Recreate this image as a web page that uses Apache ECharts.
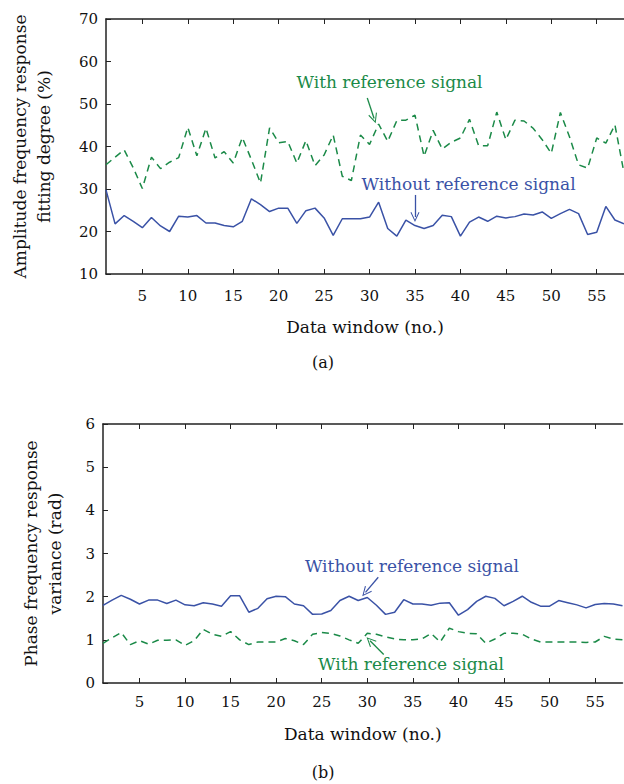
<!DOCTYPE html>
<html>
<head>
<meta charset="utf-8">
<script src="https://cdn.jsdelivr.net/npm/echarts@6/dist/echarts.min.js"></script>
<style>
  html, body { margin: 0; padding: 0; background: #fff; }
  #chart { width: 624px; height: 784px; }
</style>
</head>
<body>
<div id="chart"></div>
<script>
// data window numbers (x axis)
var windows = [1, 2, 3, 4, 5, 6, 7, 8, 9, 10, 11, 12, 13, 14, 15, 16, 17, 18, 19, 20,
    21, 22, 23, 24, 25, 26, 27, 28, 29, 30, 31, 32, 33, 34, 35, 36, 37, 38, 39, 40,
    41, 42, 43, 44, 45, 46, 47, 48, 49, 50, 51, 52, 53, 54, 55, 56, 57, 58];
var xTicks = [5, 10, 15, 20, 25, 30, 35, 40, 45, 50, 55];

// (a) amplitude fitting degree (%)
var ampWith = [35.7, 37.5, 39.2, 35.0, 30.1, 37.5, 34.8, 36.3, 37.4, 44.5,
    37.8, 44.3, 37.3, 38.8, 36.1, 42.1, 36.9, 31.4, 44.4, 40.9,
    41.2, 36.1, 41.4, 35.5, 38.0, 42.7, 33.0, 32.0, 42.7, 40.5,
    45.3, 41.2, 46.1, 46.2, 47.4, 37.7, 43.8, 39.4, 41.0, 42.0,
    46.4, 40.2, 40.2, 48.1, 41.6, 46.2, 46.0, 44.3, 41.6, 38.4,
    48.0, 42.3, 35.7, 34.9, 42.0, 40.8, 45.1, 33.8];
var ampWithout = [29.8, 21.8, 23.75, 22.4, 20.9, 23.3, 21.3, 20.0, 23.6, 23.4,
    23.75, 22.0, 22.0, 21.4, 21.1, 22.4, 27.7, 26.3, 24.7, 25.5,
    25.5, 21.9, 24.9, 25.5, 23.2, 19.1, 23.0, 23.0, 23.0, 23.4,
    26.9, 20.7, 18.9, 22.7, 21.4, 20.7, 21.4, 23.8, 23.5, 18.9,
    22.2, 23.4, 22.4, 23.6, 23.2, 23.5, 24.1, 23.9, 24.6, 23.1,
    24.2, 25.2, 24.2, 19.3, 19.8, 25.9, 22.7, 21.8];

// (b) phase variance (rad)
var phaseWith = [0.92, 1.05, 1.17, 0.89, 0.98, 0.90, 0.99, 0.99, 1.00, 0.87,
    0.98, 1.24, 1.13, 1.08, 1.19, 1.00, 0.89, 0.95, 0.95, 0.95,
    1.03, 0.98, 0.89, 1.13, 1.17, 1.15, 1.09, 1.00, 0.92, 1.15,
    1.13, 1.07, 1.02, 1.00, 1.00, 1.02, 1.15, 0.95, 1.27, 1.19,
    1.15, 1.14, 0.92, 1.02, 1.15, 1.15, 1.13, 1.02, 0.95, 0.95,
    0.95, 0.95, 0.95, 0.94, 0.95, 1.08, 1.02, 1.00];
var phaseWithout = [1.80, 1.92, 2.03, 1.94, 1.83, 1.92, 1.92, 1.84, 1.92, 1.81,
    1.79, 1.86, 1.83, 1.78, 2.02, 2.02, 1.64, 1.73, 1.95, 2.01,
    2.00, 1.83, 1.79, 1.59, 1.60, 1.68, 1.91, 2.01, 1.91, 1.98,
    1.80, 1.59, 1.64, 1.93, 1.83, 1.83, 1.80, 1.85, 1.86, 1.57,
    1.70, 1.89, 2.01, 1.96, 1.79, 1.89, 2.01, 1.87, 1.78, 1.78,
    1.91, 1.86, 1.81, 1.74, 1.82, 1.84, 1.83, 1.79];

var FONT = 'DejaVu Serif';
var BLUE = '#3a52a6';
var GREEN = '#1b8a48';
var AXIS = '#222';
// open "V" arrow head, like the hand-drawn arrows of the figure
var ARROW_HEAD = 'path://M0,10 L5,0 L10,10 L9,10.6 L5,2.4 L1,10.6 Z';

function pairs(ys) {
    return windows.map(function (x, i) { return [x, ys[i]]; });
}

function bottomX(gridIndex, labelMargin, nameGap) {
    return {
        type: 'value', gridIndex: gridIndex, min: 1, max: 58, position: 'bottom',
        name: 'Data window (no.)', nameLocation: 'middle', nameGap: nameGap,
        nameTextStyle: { fontFamily: FONT, fontSize: 17, color: '#111' },
        axisLine: { lineStyle: { color: AXIS, width: 1.5 } },
        axisTick: { inside: true, length: 5, customValues: xTicks, lineStyle: { color: AXIS } },
        axisLabel: { customValues: xTicks, margin: labelMargin, fontFamily: FONT, fontSize: 15, color: '#111' },
        splitLine: { show: false }
    };
}
function topX(gridIndex) {
    return {
        type: 'value', gridIndex: gridIndex, min: 1, max: 58, position: 'top',
        axisLine: { lineStyle: { color: AXIS, width: 1.5 } },
        axisTick: { inside: true, length: 5, customValues: xTicks, lineStyle: { color: AXIS } },
        axisLabel: { show: false },
        splitLine: { show: false }
    };
}
function leftY(gridIndex, min, max, step, name, gap) {
    return {
        type: 'value', gridIndex: gridIndex, min: min, max: max, interval: step,
        name: name, nameLocation: 'middle', nameGap: gap, nameRotate: 90,
        nameTextStyle: { fontFamily: FONT, fontSize: 17, color: '#111', lineHeight: 24 },
        axisLine: { show: true, lineStyle: { color: AXIS, width: 1.5 } },
        axisTick: { inside: true, length: 5, lineStyle: { color: AXIS } },
        axisLabel: { margin: 8, fontFamily: FONT, fontSize: 15, color: '#111' },
        splitLine: { show: false }
    };
}

function arrow(color, from, to) {
    return {
        silent: true, symbol: ['none', ARROW_HEAD], symbolSize: [9, 10],
        lineStyle: { color: color, type: 'solid', width: 1.3 },
        itemStyle: { color: color },
        label: { show: false },
        data: [[{ coord: from }, { coord: to }]]
    };
}
function note(color, text, at) {
    return {
        silent: true, symbol: 'circle', symbolSize: 0,
        data: [{
            coord: at,
            label: {
                show: true, position: 'inside', formatter: text,
                fontFamily: FONT, fontSize: 17, color: color
            }
        }]
    };
}

var myChart = echarts.init(document.getElementById('chart'), null, { renderer: 'svg' });
var option = {
    animation: false,
    backgroundColor: '#fff',
    title: [
        { text: '(a)', left: 318, top: 349, textAlign: 'center',
          textStyle: { fontFamily: FONT, fontSize: 16, fontWeight: 'normal', color: '#111' } },
        { text: '(b)', left: 318, top: 759, textAlign: 'center',
          textStyle: { fontFamily: FONT, fontSize: 16, fontWeight: 'normal', color: '#111' } }
    ],
    grid: [
        { left: 106, top: 19, width: 520, height: 255 },
        { left: 103, top: 424, width: 519.5, height: 259 }
    ],
    xAxis: [bottomX(0, 14, 44), topX(0), bottomX(1, 11, 42), topX(1)],
    yAxis: [
        leftY(0, 10, 70, 10, 'Amplitude frequency response\nfitting degree (%)', 50),
        leftY(1, 0, 6, 1, 'Phase frequency response\nvariance (rad)', 36)
    ],
    series: [
        {
            type: 'line', xAxisIndex: 0, yAxisIndex: 0, data: pairs(ampWith),
            showSymbol: false, lineStyle: { color: GREEN, width: 1.5, type: [7, 5] },
            markLine: arrow(GREEN, [29.75, 51.4], [30.5, 46.6]),
            markPoint: note(GREEN, 'With reference signal', [32.2, 55.2])
        },
        {
            type: 'line', xAxisIndex: 0, yAxisIndex: 0, data: pairs(ampWithout),
            showSymbol: false, lineStyle: { color: BLUE, width: 1.5 },
            markLine: arrow(BLUE, [35.0, 28.6], [35.0, 23.4]),
            markPoint: note(BLUE, 'Without reference signal', [40.9, 31.2])
        },
        {
            type: 'line', xAxisIndex: 2, yAxisIndex: 1, data: pairs(phaseWithout),
            showSymbol: false, lineStyle: { color: BLUE, width: 1.5 },
            markLine: arrow(BLUE, [31.2, 2.45], [29.8, 2.1]),
            markPoint: note(BLUE, 'Without reference signal', [34.9, 2.70])
        },
        {
            type: 'line', xAxisIndex: 2, yAxisIndex: 1, data: pairs(phaseWith),
            showSymbol: false, lineStyle: { color: GREEN, width: 1.5, type: [7, 5] },
            markLine: arrow(GREEN, [31.8, 0.66], [30.3, 0.98]),
            markPoint: note(GREEN, 'With reference signal', [34.8, 0.44])
        }
    ]
};
myChart.setOption(option);
</script>
</body>
</html>
